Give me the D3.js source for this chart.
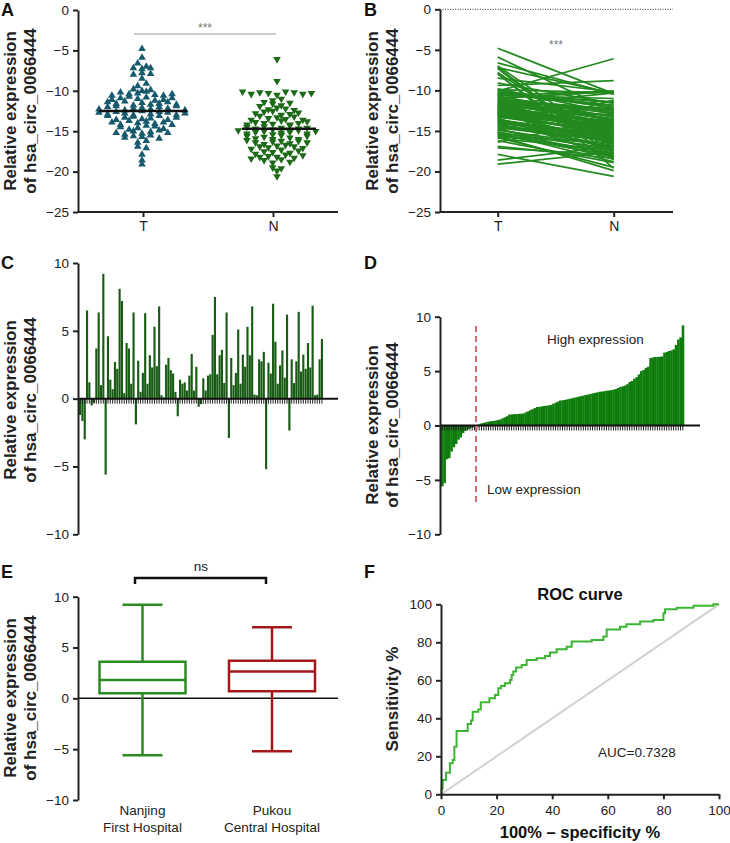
<!DOCTYPE html>
<html>
<head>
<meta charset="utf-8">
<script src="https://cdnjs.cloudflare.com/ajax/libs/d3/7.8.5/d3.min.js"></script>
<style>
  body { margin: 0; background: #fff; }
  svg { display: block; font-family: "Liberation Sans", Arial, sans-serif; }
  .axis path, .axis line { stroke: #222; stroke-width: 2; }
  .axis text { font-size: 13.5px; fill: #222; }
  .comb line { stroke: #222; stroke-width: 1; }
  .ytitle { font-size: 17px; font-weight: bold; fill: #222; }
  .letter { font-size: 18px; font-weight: bold; fill: #111; }
</style>
</head>
<body>
<div id="chart"></div>
<script>
// ---- data ----
var groups = ['T', 'N'];
var tumorValues = [
  -12.3, -10.6, -15.2, -4.8, -13.1, -11.4, -16.9, -12.0, -9.8, -14.5, -7.2, -11.9, -13.6, -10.2, -15.8,
  -12.7, -18.6, -11.1, -13.9, -7.3, -10.9, -14.2, -12.4, -5.9, -15.4, -11.6, -13.3, -9.4, -12.9, -16.4,
  -10.4, -14.8, -12.2, -8.0, -13.7, -11.3, -15.6, -10.7, -19.1, -12.6, -14.0, -11.8, -7.8, -13.2, -15.0,
  -12.1, -10.3, -14.6, -6.6, -11.5, -13.5, -17.9, -12.8, -10.1, -15.3, -11.7, -13.0, -9.1, -14.3, -12.5,
  -16.2, -11.0, -13.8, -7.0, -12.3, -10.8, -15.1, -11.2, -14.1, -8.5, -12.9, -13.4, -10.5, -15.7, -12.0,
  -7.9, -14.4, -11.6, -13.1, -17.1, -10.0, -12.6, -15.5, -11.4, -13.6, -7.2, -12.2, -14.7, -10.6, -11.9,
  -13.3, -15.9, -9.9, -12.7, -14.9, -11.1, -13.9, -10.9, -12.4, -15.2, -11.7, -14.2, -13.0, -10.4, -12.8
];
var normalValues = [
  -14.9, -10.1, -17.2, -10.4, -15.3, -13.6, -18.4, -14.2, -12.8, -16.1, -17.8, -13.1, -15.6, -11.9, -19.5,
  -14.5, -16.9, -12.3, -15.9, -18.2, -10.2, -16.4, -13.9, -12.6, -18.1, -14.0, -15.1, -8.8, -16.6, -13.4,
  -11.4, -17.5, -14.7, -18.6, -15.7, -12.5, -19.9, -13.3, -17.6, -14.4, -16.0, -10.3, -17.0, -15.0, -11.2,
  -15.4, -12.1, -16.3, -10.5, -14.1, -17.3, -20.6, -13.7, -6.1, -18.2, -14.8, -15.5, -11.6, -16.8, -13.0,
  -18.9, -10.1, -16.2, -16.7, -14.6, -12.9, -17.9, -13.5, -15.2, -10.2, -14.3, -18.3, -11.8, -16.5, -14.7,
  -19.6, -15.8, -12.7, -15.1, -18.0, -12.2, -14.9, -17.7, -13.2, -16.0, -10.4, -14.2, -18.5, -11.0, -15.3,
  -14.0, -17.4, -10.3, -15.6, -16.9, -12.4, -16.2, -13.8, -15.0, -18.8, -13.6, -17.1, -14.6, -11.5, -16.4
];
var groupMeans = [-12.5, -14.7];

var sampleDiffs = [
  -1.2, -1.65, -3.0, 6.5, 1.2, -0.5, -0.3, 3.7, 6.35, 1.0, 9.2, -5.6, 4.6, 1.4, 0.7,
  2.7, 2.2, 8.1, 7.2, 0.4, 4.1, 3.7, 1.1, 6.35, -1.9, 2.8, 0.5, 1.9, 6.3, 1.1,
  3.2, 2.3, 5.3, 2.4, 6.8, 0.25, 0.1, 2.5, 3.0, 2.1, 1.85, 0.5, -1.3, 1.4, 1.1,
  1.2, 0.6, 1.7, 3.3, 0.6, 2.35, -0.6, -0.4,
  1.5, 0.6, 1.7, 1.8, 4.7, 7.5, 1.8, 3.2, 3.6, 1.15, 6.35, -2.9, 3.0, 1.0, 1.9,
  5.1, 1.1, 3.25, 2.35, 5.3, 3.2, 6.8, 0.3, 0.25, 2.9, 2.75, 3.45, -5.2, 2.65, 1.85,
  7.0, 4.2, 1.1, 2.45, 3.55, 1.55, 6.2, -2.35, 2.9, 1.15, 2.75, 6.4, 2.0, 3.25, 2.2,
  4.1, 2.3, 6.85, 0.25, 0.3, 2.9, 4.4
];
var sortedDiffs = [
  -5.6, -5.3, -3.1, -3.0, -2.4, -2.0, -1.7, -1.3, -1.1, -0.7, -0.5, -0.35, -0.25, -0.2, -0.12, -0.05,
  0.1, 0.2, 0.25, 0.3, 0.35, 0.4, 0.42, 0.45, 0.5, 0.55, 0.65, 0.75, 0.85, 1.0,
  1.02, 1.04, 1.05, 1.07, 1.08, 1.1, 1.2, 1.3, 1.4, 1.5,
  1.6, 1.7, 1.72, 1.75, 1.8, 1.82, 1.85, 1.9, 2.0, 2.1, 2.2, 2.3,
  2.32, 2.35, 2.4, 2.45, 2.5, 2.55, 2.6, 2.65, 2.7, 2.75, 2.8, 2.85, 2.9, 2.95, 3.0, 3.05, 3.1,
  3.12, 3.15, 3.2, 3.22, 3.25, 3.3, 3.35, 3.45, 3.55, 3.6, 3.67,
  3.8, 4.0, 4.1, 4.3, 4.45, 4.7, 5.0, 5.1, 5.3, 5.4,
  6.2, 6.25, 6.3, 6.3, 6.32, 6.35, 6.7, 6.75, 6.85, 6.9, 7.0, 7.4, 7.9, 8.1, 9.2
];

var hospitals = [['Nanjing', 'First Hospital'], ['Pukou', 'Central Hospital']];
var boxMin = [-5.6, -5.2];
var boxQ1 = [0.5, 0.7];
var boxMedian = [1.8, 2.65];
var boxQ3 = [3.6, 3.7];
var boxMax = [9.2, 7.0];

var rocFpr = [0, 0.2, 0.6, 1.8, 3.2, 4.2, 4.8, 5.6, 9.6, 10.8, 11.4, 13.4, 14.3, 17.4, 19.4, 20.6, 21.6,
  23, 24.8, 25.4, 26, 27, 29, 30.8, 34.4, 37.4, 39.2, 41.6, 45.2, 47, 54.2, 58.4, 59.6, 64.4, 66.7,
  71.6, 76.4, 80, 80.6, 84.8, 90.8, 98, 100];
var rocTpr = [0, 3, 7.5, 11.4, 16.3, 18, 25, 33.3, 37, 38.8, 43.5, 44.6, 48.4, 50.5, 52.3, 55.8, 57,
  58.4, 60.2, 62.8, 64.6, 66.8, 68, 70.7, 71.6, 72.8, 74.6, 76.3, 77.7, 80.4, 81.2, 83, 86.8, 88.2, 89.5,
  90.9, 91.8, 95.3, 97.4, 98.2, 99.3, 100, 100];

var exprTicks = [0, -5, -10, -15, -20, -25];
var diffTicks = [10, 5, 0, -5, -10];
var rocTicks = [0, 20, 40, 60, 80, 100];

var svg = d3.select('#chart').append('svg')
    .attr('width', 730)
    .attr('height', 843);

function yTitle(x, yMid, lines) {
  var t = svg.append('text')
      .attr('class', 'ytitle')
      .attr('text-anchor', 'middle')
      .attr('transform', 'translate(' + x + ',' + yMid + ') rotate(-90)');
  lines.forEach(function(l, i) {
    t.append('tspan').attr('x', 0).attr('dy', i === 0 ? 0 : 20.5).text(l);
  });
}

function letter(x, y, s) {
  svg.append('text').attr('class', 'letter').attr('x', x).attr('y', y).text(s);
}

function leftAxis(scale, x, ticks) {
  svg.append('g')
      .attr('class', 'axis')
      .attr('transform', 'translate(' + x + ',0)')
      .call(d3.axisLeft(scale).tickValues(ticks).tickSize(5).tickSizeOuter(0).tickPadding(4));
}

var titleLines = ['Relative expression', 'of hsa_circ_0066444'];

// prism-style scatter: values grouped in thin rows, each row spread sideways
function swarm(values, cx, yScale) {
  var rows = d3.bin().thresholds(d3.range(-25, 0.01, 0.6))(values);
  var pts = [];
  rows.forEach(function(row) {
    row.forEach(function(v, j) {
      pts.push({x: cx + (j - (row.length - 1) / 2) * 8.6, y: yScale(v)});
    });
  });
  return pts;
}

// ---- panel A ----
var yA = d3.scaleLinear().domain([-25, 0]).range([212, 10]);
var xA = d3.scalePoint().domain(groups).range([142, 277]);

leftAxis(yA, 78, exprTicks);
svg.append('line').attr('x1', 78).attr('x2', 338).attr('y1', yA(-25)).attr('y2', yA(-25))
    .style('stroke', '#222').style('stroke-width', 2);
svg.append('g')
    .attr('class', 'axis')
    .attr('transform', 'translate(0,' + yA(-25) + ')')
    .call(d3.axisBottom(d3.scalePoint().domain(groups).range([143, 273])).tickSize(5).tickPadding(4))
    .call(function(g) { g.select('.domain').remove(); })
    .selectAll('text').style('font-size', '14px');

var triUp = d3.symbol().type(d3.symbolTriangle).size(25);

svg.append('g').selectAll('path')
    .data(swarm(tumorValues, xA('T'), yA))
    .enter().append('path')
      .attr('d', triUp)
      .attr('transform', function(d) { return 'translate(' + d.x + ',' + d.y + ')'; })
      .style('fill', '#175a6e');

svg.append('g').selectAll('path')
    .data(swarm(normalValues, xA('N'), yA))
    .enter().append('path')
      .attr('d', triUp)
      .attr('transform', function(d) { return 'translate(' + d.x + ',' + d.y + ') rotate(180)'; })
      .style('fill', '#1c6a17');

svg.append('g').selectAll('line')
    .data(groupMeans)
    .enter().append('line')
      .attr('x1', function(d, i) { return xA(groups[i]) - (i ? 35 : 43); })
      .attr('x2', function(d, i) { return xA(groups[i]) + (i ? 39 : 45); })
      .attr('y1', function(d) { return yA(d); })
      .attr('y2', function(d) { return yA(d); })
      .style('stroke', '#111')
      .style('stroke-width', 2.5);

svg.append('line').attr('x1', 134).attr('x2', 276).attr('y1', 34).attr('y2', 34)
    .style('stroke', '#999').style('stroke-width', 1);
svg.append('text').attr('x', 205).attr('y', 32).attr('text-anchor', 'middle')
    .style('font-size', '12px').style('fill', '#777').text('***');

yTitle(15.5, 111, titleLines);
letter(1, 16, 'A');

// ---- panel B ----
var yB = d3.scaleLinear().domain([-25, 0]).range([212, 9.3]);
var xB = d3.scalePoint().domain(groups).range([497.7, 613.7]);

svg.append('line').attr('x1', 440).attr('x2', 673).attr('y1', yB(0)).attr('y2', yB(0))
    .style('stroke', '#333').style('stroke-width', 1).style('stroke-dasharray', '1,1.5');

svg.append('g').selectAll('line')
    .data(tumorValues)
    .enter().append('line')
      .attr('x1', xB('T'))
      .attr('x2', xB('N'))
      .attr('y1', function(d) { return yB(d); })
      .attr('y2', function(d, i) { return yB(normalValues[i]); })
      .style('stroke', '#238a1f')
      .style('stroke-width', 1.7);

leftAxis(yB, 440, exprTicks);
svg.append('line').attr('x1', 440).attr('x2', 673).attr('y1', yB(-25)).attr('y2', yB(-25))
    .style('stroke', '#222').style('stroke-width', 2);
svg.append('g')
    .attr('class', 'axis')
    .attr('transform', 'translate(0,' + yB(-25) + ')')
    .call(d3.axisBottom(xB).tickSize(5).tickPadding(4))
    .call(function(g) { g.select('.domain').remove(); })
    .selectAll('text').style('font-size', '14px');

svg.append('text').attr('x', 556).attr('y', 49).attr('text-anchor', 'middle')
    .style('font-size', '12px').style('fill', '#777').text('***');

yTitle(377.5, 111, titleLines);
letter(364, 16, 'B');

// ---- panel C ----
var yC = d3.scaleLinear().domain([-10, 10]).range([534.3, 263]);
var xC = d3.scaleBand().domain(d3.range(sampleDiffs.length)).range([79, 323]).paddingInner(0.08);

svg.append('g').selectAll('rect')
    .data(sampleDiffs)
    .enter().append('rect')
      .attr('x', function(d, i) { return xC(i); })
      .attr('width', xC.bandwidth())
      .attr('y', function(d) { return yC(Math.max(0, d)); })
      .attr('height', function(d) { return Math.abs(yC(d) - yC(0)); })
      .style('fill', '#185c14');

svg.append('g')
    .attr('class', 'comb')
    .attr('transform', 'translate(0,' + yC(0) + ')')
    .call(d3.axisBottom(xC).tickSize(5).tickFormat(''))
    .call(function(g) { g.select('.domain').remove(); });
svg.append('line').attr('x1', 78).attr('x2', 338).attr('y1', yC(0)).attr('y2', yC(0))
    .style('stroke', '#111').style('stroke-width', 2);

leftAxis(yC, 78, diffTicks);
yTitle(15.5, 400, titleLines);
letter(1, 269, 'C');

// ---- panel D ----
var yD = d3.scaleLinear().domain([-10, 10]).range([534.3, 316.7]);
var xD = d3.scaleBand().domain(d3.range(sortedDiffs.length)).range([441, 684]).paddingInner(0);

svg.append('g').selectAll('rect')
    .data(sortedDiffs)
    .enter().append('rect')
      .attr('x', function(d, i) { return xD(i); })
      .attr('width', xD.bandwidth() + 0.3)
      .attr('y', function(d) { return yD(Math.max(0, d)); })
      .attr('height', function(d) { return Math.abs(yD(d) - yD(0)); })
      .style('fill', '#0f7d0c');

svg.append('g')
    .attr('class', 'comb')
    .attr('transform', 'translate(0,' + yD(0) + ')')
    .call(d3.axisBottom(xD).tickSize(5).tickFormat(''))
    .call(function(g) { g.select('.domain').remove(); });
svg.append('line').attr('x1', 440).attr('x2', 700).attr('y1', yD(0)).attr('y2', yD(0))
    .style('stroke', '#111').style('stroke-width', 2);

leftAxis(yD, 440, diffTicks);

svg.append('line').attr('x1', 476).attr('x2', 476).attr('y1', 326).attr('y2', 506)
    .style('stroke', '#d46a6e').style('stroke-width', 2).style('stroke-dasharray', '6,4');
svg.append('text').attr('x', 547).attr('y', 344).style('font-size', '13.5px').style('fill', '#222')
    .text('High expression');
svg.append('text').attr('x', 487).attr('y', 494).style('font-size', '13.5px').style('fill', '#222')
    .text('Low expression');

yTitle(377.5, 425, titleLines);
letter(364, 269, 'D');

// ---- panel E ----
var yE = d3.scaleLinear().domain([-10, 10]).range([800, 596.7]);
var xE = d3.scalePoint().domain([0, 1]).range([142.5, 272]);
var boxColors = ['#2b8a22', '#a3171a'];

svg.append('line').attr('x1', 78).attr('x2', 338).attr('y1', yE(0)).attr('y2', yE(0))
    .style('stroke', '#111').style('stroke-width', 1.5);

var boxes = svg.append('g').selectAll('g')
    .data(boxMedian)
    .enter().append('g')
      .style('stroke', function(d, i) { return boxColors[i]; })
      .style('stroke-width', 2.5)
      .style('fill', 'none');

boxes.append('line')
    .attr('x1', function(d, i) { return xE(i); }).attr('x2', function(d, i) { return xE(i); })
    .attr('y1', function(d, i) { return yE(boxMax[i]); }).attr('y2', function(d, i) { return yE(boxQ3[i]); });
boxes.append('line')
    .attr('x1', function(d, i) { return xE(i); }).attr('x2', function(d, i) { return xE(i); })
    .attr('y1', function(d, i) { return yE(boxQ1[i]); }).attr('y2', function(d, i) { return yE(boxMin[i]); });
boxes.append('line')
    .attr('x1', function(d, i) { return xE(i) - 20; }).attr('x2', function(d, i) { return xE(i) + 20; })
    .attr('y1', function(d, i) { return yE(boxMax[i]); }).attr('y2', function(d, i) { return yE(boxMax[i]); });
boxes.append('line')
    .attr('x1', function(d, i) { return xE(i) - 20; }).attr('x2', function(d, i) { return xE(i) + 20; })
    .attr('y1', function(d, i) { return yE(boxMin[i]); }).attr('y2', function(d, i) { return yE(boxMin[i]); });
boxes.append('rect')
    .attr('x', function(d, i) { return xE(i) - 43; })
    .attr('width', 86)
    .attr('y', function(d, i) { return yE(boxQ3[i]); })
    .attr('height', function(d, i) { return yE(boxQ1[i]) - yE(boxQ3[i]); })
    .style('fill', '#fff');
boxes.append('line')
    .attr('x1', function(d, i) { return xE(i) - 43; }).attr('x2', function(d, i) { return xE(i) + 43; })
    .attr('y1', function(d) { return yE(d); }).attr('y2', function(d) { return yE(d); });

leftAxis(yE, 78, diffTicks);

svg.append('g').selectAll('text')
    .data(hospitals)
    .enter().append('text')
      .attr('text-anchor', 'middle')
      .attr('x', function(d, i) { return xE(i); })
      .attr('y', 815)
      .style('font-size', '13.5px')
      .style('fill', '#222')
      .each(function(d) {
        var t = d3.select(this);
        d.forEach(function(l, j) {
          t.append('tspan').attr('x', t.attr('x')).attr('dy', j === 0 ? 0 : 16.5).text(l);
        });
      });

svg.append('path')
    .attr('d', 'M135,584V578H266V584')
    .style('fill', 'none').style('stroke', '#111').style('stroke-width', 2.5);
svg.append('text').attr('x', 201).attr('y', 571).attr('text-anchor', 'middle')
    .style('font-size', '13.5px').style('fill', '#222').text('ns');

yTitle(15.5, 698, titleLines);
letter(1, 578, 'E');

// ---- panel F ----
var xF = d3.scaleLinear().domain([0, 100]).range([441, 719]);
var yF = d3.scaleLinear().domain([0, 100]).range([794.3, 604.3]);

svg.append('line')
    .attr('x1', xF(0)).attr('y1', yF(0)).attr('x2', xF(100)).attr('y2', yF(100))
    .style('stroke', '#d2d2d2').style('stroke-width', 2);

var rocLine = d3.line()
    .x(function(d) { return xF(d); })
    .y(function(d, i) { return yF(rocTpr[i]); })
    .curve(d3.curveStepAfter);

svg.append('path')
    .attr('d', rocLine(rocFpr))
    .style('fill', 'none')
    .style('stroke', '#3cb534')
    .style('stroke-width', 2);

svg.append('g')
    .attr('class', 'axis')
    .attr('transform', 'translate(' + xF(0) + ',0)')
    .call(d3.axisLeft(yF).tickValues(rocTicks).tickSize(5).tickSizeOuter(0).tickPadding(4));
svg.append('g')
    .attr('class', 'axis')
    .attr('transform', 'translate(0,' + yF(0) + ')')
    .call(d3.axisBottom(xF).tickValues(rocTicks).tickSize(5).tickSizeOuter(0).tickPadding(6));

svg.append('text').attr('x', 580).attr('y', 600).attr('text-anchor', 'middle')
    .style('font-size', '16.5px').style('font-weight', 'bold').style('fill', '#111').text('ROC curve');
svg.append('text').attr('x', 598).attr('y', 757).style('font-size', '13.5px').style('fill', '#222')
    .text('AUC=0.7328');
svg.append('text').attr('x', 580).attr('y', 838).attr('text-anchor', 'middle')
    .style('font-size', '16.5px').style('font-weight', 'bold').style('fill', '#111')
    .text('100% \u2013 specificity %');
yTitle(398, 699, ['Sensitivity %']);
letter(364, 578, 'F');
</script>
</body>
</html>
